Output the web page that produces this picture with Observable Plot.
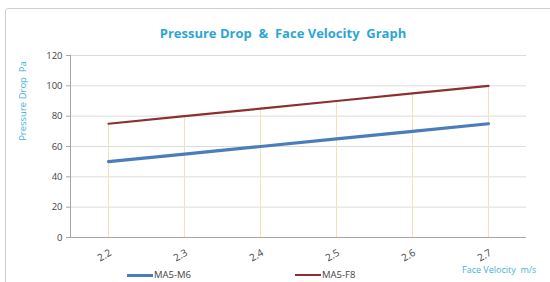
<!DOCTYPE html>
<html>
<head>
<meta charset="utf-8">
<script src="https://cdn.jsdelivr.net/npm/d3@7"></script>
<script src="https://cdn.jsdelivr.net/npm/@observablehq/plot@0.6"></script>
<style>
  body { margin: 0; background: #fff; font-family: "Open Sans", sans-serif; }
  #wrap { position: relative; width: 550px; height: 282px; overflow: hidden; background: #fff; }
  #frame { position: absolute; left: 5px; top: 8px; width: 560px; height: 300px; border: 1px solid #cfcfcf; border-radius: 3px; box-sizing: border-box; }
  #plot { position: absolute; left: 0; top: 0; }
  .t { position: absolute; color: #2ea6d4; white-space: pre; }
  #title { left: 0; width: 566px; top: 24px; text-align: center; font-weight: bold; font-size: 13px; }
  #ylab { left: 22px; top: 101px; font-size: 9.5px; transform: translate(-50%, -50%) rotate(-90deg); color: #3fb3e0; }
  #xlab { left: 462px; top: 263px; font-size: 9px; color: #3fb3e0; }
  .leg { position: absolute; top: 269px; font-size: 9.5px; line-height: 12px; color: #444; white-space: nowrap; }
  .sw { display: inline-block; width: 26px; height: 3px; vertical-align: middle; margin-right: 1px; }
</style>
</head>
<body>
<div id="wrap">
  <div id="frame"></div>
  <div id="plot"></div>
  <div class="t" id="title">Pressure Drop  &amp;  Face Velocity  Graph</div>
  <div class="t" id="ylab">Pressure Drop  Pa</div>
  <div class="t" id="xlab">Face Velocity  m/s</div>
  <div class="leg" id="leg1" style="left:127px"><span class="sw" style="background:#4a7ebb"></span>MA5-M6</div>
  <div class="leg" id="leg2" style="left:295px"><span class="sw" style="background:#8c2f2f;height:2px"></span>MA5-F8</div>
</div>
<script>
const velocities = ["2.2", "2.3", "2.4", "2.5", "2.6", "2.7"];
const seriesNames = ["MA5-M6", "MA5-F8"];
const m6Values = [50, 55, 60, 65, 70, 75];
const f8Values = [75, 80, 85, 90, 95, 100];
const yTicks = [0, 20, 40, 60, 80, 100, 120];
const colors = ["#4a7ebb", "#8c2f2f"];

const data = [];
velocities.forEach((v, i) => {
  data.push({ x: v, y: m6Values[i], s: seriesNames[0] });
  data.push({ x: v, y: f8Values[i], s: seriesNames[1] });
});
const upper = velocities.map((v, i) => ({ x: v, y: f8Values[i] }));

const chart = Plot.plot({
  width: 550,
  height: 282,
  marginTop: 55,
  marginBottom: 45,
  marginLeft: 70,
  marginRight: 24,
  style: { fontFamily: "Open Sans, sans-serif", fontSize: "9.5px", color: "#444", background: "transparent" },
  x: { type: "point", domain: velocities, padding: 0.5, label: null, axis: null },
  y: { domain: [0, 120], ticks: yTicks, label: null, clamp: false },
  color: { domain: seriesNames, range: colors },
  marks: [
    Plot.gridY(yTicks, { stroke: "#dcdcdc", strokeOpacity: 1 }),
    Plot.ruleX(upper, { x: "x", y1: 0, y2: "y", stroke: "#f7e0b8", strokeWidth: 1 }),
    Plot.ruleY([0], { stroke: "#a6a6a6" }),
    Plot.axisY(yTicks, { tickSize: 4, tickPadding: 4, stroke: "#a6a6a6", fill: "#444" }),
    Plot.frame({ anchor: "left", stroke: "#a6a6a6" }),
    Plot.text(velocities, { x: d => d, y: () => 0, text: d => d, dy: 18, dx: -4, rotate: -30, textAnchor: "middle", fill: "#444", fontSize: 10 }),
    Plot.line(data.filter(d => d.s === seriesNames[0]), { x: "x", y: "y", stroke: colors[0], strokeWidth: 3.2 }),
    Plot.line(data.filter(d => d.s === seriesNames[1]), { x: "x", y: "y", stroke: colors[1], strokeWidth: 2.2 })
  ]
});
document.getElementById("plot").appendChild(chart);
</script>
</body>
</html>
